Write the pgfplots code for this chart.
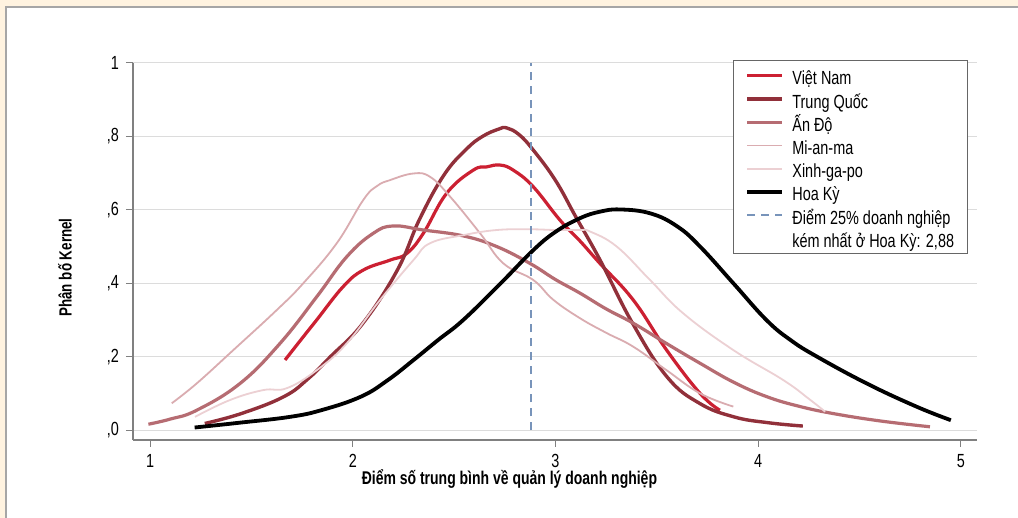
\documentclass[border=0pt]{standalone}
\usepackage{pgfplots}
\pgfplotsset{compat=1.18}
\usepackage{fontspec}
\setmainfont{Liberation Sans}[FakeStretch=0.76]
\definecolor{bgbeige}{RGB}{255,243,224}
\definecolor{cVN}{RGB}{204,32,50}
\definecolor{cTQ}{RGB}{145,48,58}
\definecolor{cAD}{RGB}{182,108,114}
\definecolor{cMM}{RGB}{218,172,176}
\definecolor{cSG}{RGB}{236,208,211}
\definecolor{cDash}{RGB}{120,148,186}
\definecolor{gridc}{RGB}{220,220,220}
\definecolor{spine}{RGB}{128,128,128}
\begin{document}
\begin{tikzpicture}
\useasboundingbox (0,0) rectangle (509pt,259pt);
\fill[bgbeige] (0,0) rectangle (509pt,259pt);
\fill[white] (3pt,0) rectangle (509pt,255.5pt);
\draw[gray!70, line width=0.6pt] (3pt,0) -- (3pt,255.5pt) -- (509pt,255.5pt);
\begin{axis}[
  at={(66.5pt,39pt)}, anchor=south west,
  width=422pt, height=188.5pt, scale only axis,
  xmin=0.916, xmax=5.079, ymin=-0.027, ymax=1,
  axis x line*=bottom, axis y line*=left,
  axis line style={spine, line width=0.7pt},
  xtick={1,2,3,4,5},
  ytick={0,0.2,0.4,0.6,0.8,1},
  yticklabels={{,0},{,2},{,4},{,6},{,8},{1}},
  tick align=outside, major tick length=3.5pt,
  tick style={spine, line width=0.5pt},
  ymajorgrids, major grid style={gridc, line width=0.5pt},
  /pgf/number format/assume math mode=true,
  tick label style={font=\fontsize{9.5}{11}\selectfont},
  xlabel={\bfseries Điểm số trung bình về quản lý doanh nghiệp},
  ylabel={\bfseries Phân bố Kernel},
  xlabel style={font=\fontsize{9.2}{11}\selectfont, at={(axis description cs:0.446,-0.104)}, anchor=center},
  ylabel style={font=\fontsize{8.8}{10}\selectfont, at={(axis description cs:-0.0806,0.4576)}, anchor=center},
  legend style={at={(axis description cs:0.711,1.008)}, anchor=north west,
    draw=gray!80!black, line width=0.5pt, inner xsep=6pt, inner ysep=2.2pt,
    font=\fontsize{9.5}{11}\selectfont, row sep=0.6pt, column sep=3.5pt,
    nodes={inner sep=0.5pt, text height=9.5pt, text depth=0.5pt}},
  legend cell align=left,
  legend image code/.code={\draw[#1] (0pt,0pt) -- (17.5pt,0pt);},
]
\addplot[cVN, line width=1.6pt, smooth, tension=0.7] coordinates {
(1.666,0.191) (1.75,0.25) (1.822,0.300) (1.953,0.391) (2.052,0.436) (2.184,0.463) (2.266,0.481) (2.348,0.536) (2.463,0.645) (2.594,0.708) (2.661,0.717) (2.726,0.722) (2.792,0.708) (2.89,0.663) (3.022,0.572) (3.121,0.515) (3.219,0.454) (3.384,0.354) (3.548,0.218) (3.713,0.100) (3.811,0.054)};
\addlegendentry{Việt Nam}
\addplot[cTQ, line width=1.7pt, smooth, tension=0.7] coordinates {
(1.27,0.018) (1.45,0.045) (1.66,0.091) (1.78,0.140) (1.89,0.200) (2.05,0.291) (2.22,0.436) (2.33,0.575) (2.45,0.695) (2.56,0.765) (2.64,0.800) (2.72,0.820) (2.76,0.823) (2.82,0.805) (2.89,0.763) (3.00,0.680) (3.10,0.581) (3.22,0.463) (3.38,0.291) (3.55,0.145) (3.71,0.073) (3.88,0.036) (4.05,0.020) (4.22,0.011)};
\addlegendentry{Trung Quốc}
\addplot[cAD, line width=1.6pt, smooth, tension=0.7] coordinates {
(0.992,0.016) (1.10,0.030) (1.23,0.054) (1.444,0.127) (1.641,0.236) (1.822,0.363) (1.970,0.472) (2.101,0.536) (2.200,0.556) (2.348,0.545) (2.545,0.529) (2.71,0.500) (2.874,0.454) (3.00,0.410) (3.121,0.373) (3.25,0.330) (3.384,0.291) (3.55,0.235) (3.713,0.182) (3.88,0.130) (4.042,0.091) (4.20,0.065) (4.370,0.045) (4.60,0.025) (4.847,0.009)};
\addlegendentry{Ấn Độ}
\addplot[cMM, line width=0.9pt, smooth, tension=0.7] coordinates {
(1.107,0.073) (1.23,0.127) (1.411,0.218) (1.625,0.327) (1.756,0.400) (1.921,0.509) (2.052,0.627) (2.12,0.665) (2.184,0.681) (2.299,0.699) (2.381,0.690) (2.480,0.636) (2.628,0.536) (2.743,0.454) (2.890,0.409) (2.989,0.355) (3.12,0.305) (3.25,0.265) (3.384,0.227) (3.548,0.163) (3.713,0.100) (3.877,0.064)};
\addlegendentry{Mi-an-ma}
\addplot[cSG, line width=0.9pt, smooth, tension=0.7] coordinates {
(1.222,0.036) (1.395,0.082) (1.559,0.109) (1.674,0.114) (1.822,0.163) (1.970,0.236) (2.134,0.354) (2.299,0.463) (2.381,0.509) (2.545,0.531) (2.710,0.545) (2.874,0.547) (3.00,0.545) (3.121,0.545) (3.170,0.541) (3.302,0.500) (3.466,0.409) (3.630,0.318) (3.877,0.218) (4.124,0.136) (4.25,0.085) (4.33,0.050)};
\addlegendentry{Xinh-ga-po}
\addplot[black, line width=1.9pt, smooth, tension=0.7] coordinates {
(1.22,0.007) (1.44,0.020) (1.69,0.036) (1.85,0.055) (2.04,0.091) (2.17,0.135) (2.30,0.191) (2.42,0.245) (2.545,0.300) (2.73,0.400) (2.89,0.490) (3.00,0.540) (3.12,0.577) (3.22,0.595) (3.32,0.601) (3.47,0.590) (3.60,0.555) (3.713,0.500) (3.877,0.400) (4.04,0.300) (4.16,0.245) (4.29,0.200) (4.535,0.127) (4.78,0.064) (4.95,0.027)};
\addlegendentry{Hoa Kỳ}
\addplot[cDash, line width=0.7pt, dash pattern=on 4pt off 3pt] coordinates {(2.88,0) (2.88,1)};
\addlegendentry{Điểm 25\% doanh nghiệp}
\addlegendimage{empty legend}
\addlegendentry{kém nhất ở Hoa Kỳ: 2,88}
\end{axis}
\end{tikzpicture}
\end{document}
